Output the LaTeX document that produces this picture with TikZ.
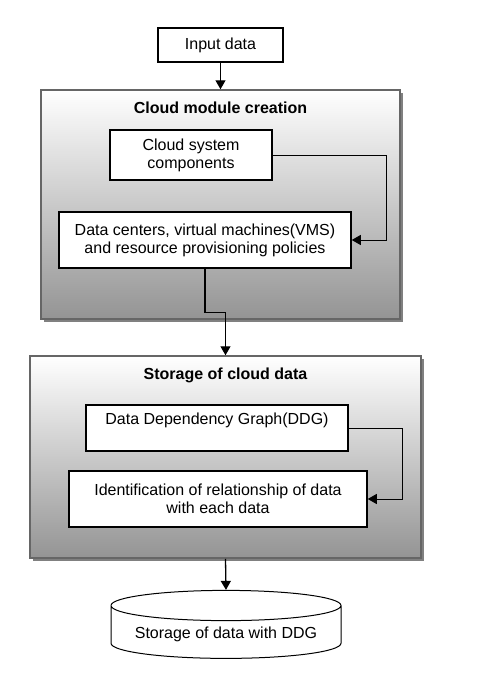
\documentclass[tikz,border=0pt]{standalone}
\usepackage{fontspec}
\setmainfont{Liberation Sans}
\usepackage{tikz}
\usetikzlibrary{arrows.meta}
\usetikzlibrary{positioning}
\usetikzlibrary{shapes.geometric}
\usetikzlibrary{shadows}

\begin{document}
\begin{tikzpicture}[x=1pt,y=-1pt,>={Triangle[length=9pt,width=10pt]},
		font=\fontsize{16}{18}\selectfont,
		step box/.style={rectangle,draw=black,line width=1.5pt,fill=white,align=center,inner sep=2pt},
		module/.style={rectangle,draw=black!60,line width=1.5pt,top color=white,bottom color=black!42,
			drop shadow={shadow xshift=2.5pt,shadow yshift=-2.5pt,fill=black!50,opacity=1}},
		headline/.style={font=\fontsize{16}{18}\selectfont\bfseries},
		flow/.style={->,line width=1.3pt},
		loopback/.style={->,line width=1pt}]
		\useasboundingbox (0,0) rectangle (477,697);

		\node[step box,minimum width=125pt,minimum height=34pt] (input) at (220.5,45) {Input data};

		% cloud module creation
		\node[module,minimum width=359pt,minimum height=229pt] (cloudmod) at (220.5,204.5) {};
		\node[headline,below=9pt of cloudmod.north] (cloudtitle) {Cloud module creation};
		\node[step box,minimum width=162pt,minimum height=50pt] (sysparts) at (191,155) {Cloud system\\components};
		\node[step box,minimum width=292pt,minimum height=56pt] (datactr) at (205,240) {Data centers, virtual machines(VMS)\\and resource provisioning policies};

		% storage of cloud data
		\node[module,minimum width=391pt,minimum height=202pt] (storage) at (225.5,457) {};
		\node[headline,below=9pt of storage.north] (storetitle) {Storage of cloud data};
		\node[step box,minimum width=262pt,minimum height=46pt] (ddg) at (217,428) {Data Dependency Graph(DDG)\\~};
		\node[step box,minimum width=298pt,minimum height=56pt] (ident) at (218,499) {Identification of relationship of data\\with each data};

		\node[cylinder,shape border rotate=90,draw=black,line width=1pt,fill=white,aspect=0.16,
			minimum width=230pt,minimum height=68pt] (dbstore) at (226,634) {Storage of data with DDG};

		\draw[flow] (input) -- (cloudmod.north);
		\draw[loopback] (sysparts.east) -- ++(114,0) |- (datactr.east);
		\draw[flow] (datactr.south) -- ++(0,44) -| (storage.north);
		\draw[loopback] (ddg.east) -- ++(54,0) |- (ident.east);
		\draw[flow] (storage.south) -- (dbstore.north);
\end{tikzpicture}
\end{document}
